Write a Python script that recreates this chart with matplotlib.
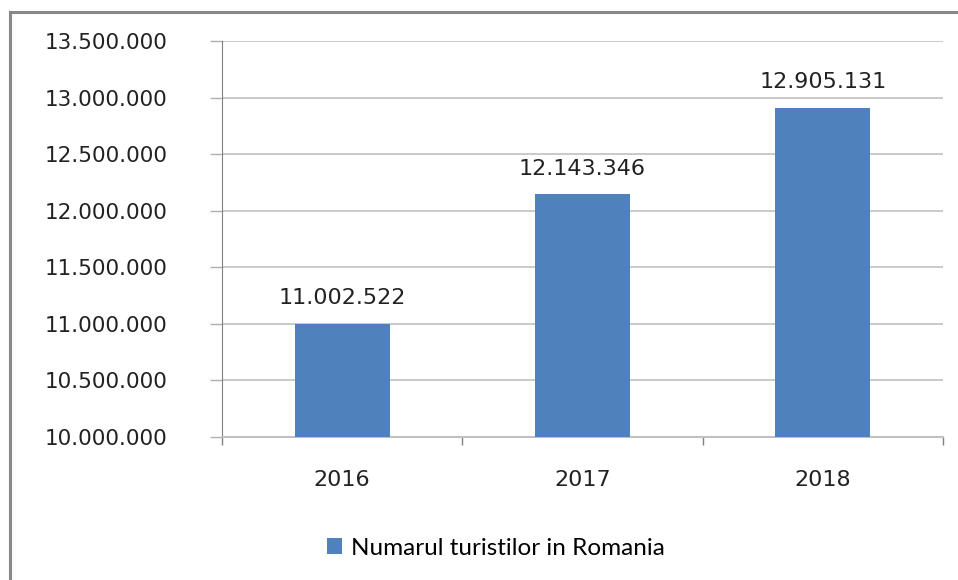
import numpy as np
import matplotlib.pyplot as plt
from matplotlib.lines import Line2D

years = ["2016", "2017", "2018"]
tourists = [11002522, 12143346, 12905131]
value_labels = ["11.002.522", "12.143.346", "12.905.131"]
y_ticks = [10000000, 10500000, 11000000, 11500000, 12000000, 12500000, 13000000, 13500000]
legend_label = "Numarul turistilor in Romania"

def dotted(v):
	return "{:,}".format(int(v)).replace(",", ".")

plt.rcParams["font.family"] = ["DejaVu Sans"]

fig = plt.figure(figsize=(9.58, 5.8), dpi=100)
ax = fig.add_axes([0.2317, 0.2466, 0.7526, 0.6828])

x = np.arange(len(years))
bars = ax.bar(x, tourists, width=0.395, color="#4F81BD", zorder=3, label=legend_label)

for xi, v, lab in zip(x, tourists, value_labels):
	ax.text(xi, v + 140000, lab, ha="center", va="bottom", fontsize=16, color="#222222")

ax.set_xlim(-0.5, len(years) - 0.5)
ax.set_ylim(y_ticks[0], y_ticks[-1])
ax.set_yticks(y_ticks)
ax.set_yticklabels([dotted(t) for t in y_ticks], fontsize=15.5, color="#222222")

# category labels centred, tick marks on the boundaries
ax.set_xticks(np.arange(len(years) + 1) - 0.5)
ax.set_xticklabels([])
ax.set_xticks(x, minor=True)
ax.set_xticklabels(years, minor=True, fontsize=16, color="#222222")
ax.tick_params(axis="x", which="minor", length=0, pad=24)
ax.tick_params(axis="x", which="major", length=6, color="#808080", width=1)
ax.tick_params(axis="y", length=9, color="#b0b0b0", width=1, pad=30)

ax.grid(axis="y", color="#c0c0c0", linewidth=1.2, zorder=0)
for s in ["top", "right"]:
	ax.spines[s].set_visible(False)
ax.spines["left"].set_color("#808080")
ax.spines["bottom"].set_color("#c0c0c0")
ax.spines["bottom"].set_linewidth(1.5)

fig.legend(loc="center", bbox_to_anchor=(0.518, 0.055), frameon=False,
	prop={"family": "Lato", "size": 17.5}, handlelength=0.6, handleheight=0.6,
	handletextpad=0.4)

# outer chart border (document crop)
fig.add_artist(Line2D([10/958, 10/958], [0, 1 - 12/580], color="#888888", linewidth=2.2))
fig.add_artist(Line2D([10/958, 1], [1 - 12/580, 1 - 12/580], color="#888888", linewidth=2.2))

fig.savefig("out.png", dpi=100)
